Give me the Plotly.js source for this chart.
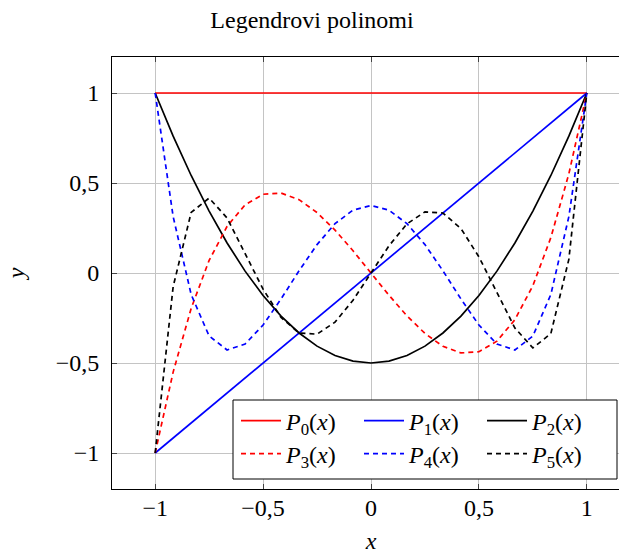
<!DOCTYPE html>
<html>
<head>
<meta charset="utf-8">
<script src="https://cdn.plot.ly/plotly-3.0.1.min.js"></script>
<style>
html,body{margin:0;padding:0;overflow:hidden;background:#fff;}
#chart{width:660px;height:554px;}
</style>
</head>
<body>
<div id="chart"></div>
<script>
// sample points (x) and values of each polynomial
const xs = [-1, -0.9167, -0.8333, -0.75, -0.6667, -0.5833, -0.5, -0.4167, -0.3333, -0.25, -0.1667, -0.0833, 0, 0.0833, 0.1667, 0.25, 0.3333, 0.4167, 0.5, 0.5833, 0.6667, 0.75, 0.8333, 0.9167, 1];
const p0 = [1, 1, 1, 1, 1, 1, 1, 1, 1, 1, 1, 1, 1, 1, 1, 1, 1, 1, 1, 1, 1, 1, 1, 1, 1];
const p1 = [-1, -0.9167, -0.8333, -0.75, -0.6667, -0.5833, -0.5, -0.4167, -0.3333, -0.25, -0.1667, -0.0833, 0, 0.0833, 0.1667, 0.25, 0.3333, 0.4167, 0.5, 0.5833, 0.6667, 0.75, 0.8333, 0.9167, 1];
const p2 = [1, 0.7604, 0.5417, 0.3438, 0.1667, 0.0104, -0.125, -0.2396, -0.3333, -0.4063, -0.4583, -0.4896, -0.5, -0.4896, -0.4583, -0.4063, -0.3333, -0.2396, -0.125, 0.0104, 0.1667, 0.3438, 0.5417, 0.7604, 1];
const p3 = [-1, -0.5506, -0.1968, 0.0703, 0.2593, 0.3788, 0.4375, 0.4442, 0.4074, 0.3359, 0.2384, 0.1236, 0, -0.1236, -0.2384, -0.3359, -0.4074, -0.4442, -0.4375, -0.3788, -0.2593, -0.0703, 0.1968, 0.5506, 1];
const p4 = [1, 0.3130, -0.1193, -0.3501, -0.4275, -0.3945, -0.2891, -0.1442, 0.0123, 0.1577, 0.2742, 0.3492, 0.375, 0.3492, 0.2742, 0.1577, 0.0123, -0.1442, -0.2891, -0.3945, -0.4275, -0.3501, -0.1193, 0.3130, 1];
const p5 = [-1, -0.0759, 0.3364, 0.4164, 0.3056, 0.1112, -0.0898, -0.2472, -0.3333, -0.3397, -0.2730, -0.1512, 0, 0.1512, 0.2730, 0.3397, 0.3333, 0.2472, 0.0898, -0.1112, -0.3056, -0.4164, -0.3364, 0.0759, 1];

const seriesNames = ['<i>P</i><sub>0</sub>(<i>x</i>)', '<i>P</i><sub>1</sub>(<i>x</i>)', '<i>P</i><sub>2</sub>(<i>x</i>)',
                     '<i>P</i><sub>3</sub>(<i>x</i>)', '<i>P</i><sub>4</sub>(<i>x</i>)', '<i>P</i><sub>5</sub>(<i>x</i>)'];
const seriesY = [p0, p1, p2, p3, p4, p5];

const xTickVals = [-1, -0.5, 0, 0.5, 1];
const xTickText = ['−1', '−0,5', '0', '0,5', '1'];
const yTickVals = [-1, -0.5, 0, 0.5, 1];
const yTickText = ['−1', '−0,5', '0', '0,5', '1'];

const colors = ['#ff0000', '#0000ff', '#000000', '#ff0000', '#0000ff', '#000000'];
const dashes = ['solid', 'solid', 'solid', '5px,4px', '5px,4px', '5px,4px'];
const legendIds = ['legend', 'legend', 'legend', 'legend2', 'legend2', 'legend2'];

const traces = seriesY.map((y, i) => ({
  x: xs, y: y, type: 'scatter', mode: 'lines', name: seriesNames[i], legend: legendIds[i],
  line: {color: colors[i], width: 1.7, dash: dashes[i]}
}));

const FONT = 'Liberation Serif, Times New Roman, serif';
const W = 660, H = 554;
const PL = 112, PT = 57, PW = 518, PH = 432;
const px2x = p => (p - PL) / PW;
const py2y = p => (PT + PH - p) / PH;

const legendCommon = {
  orientation: 'h', xanchor: 'left', yanchor: 'middle',
  bgcolor: 'rgba(0,0,0,0)', borderwidth: 0,
  entrywidthmode: 'pixels', entrywidth: 68, itemwidth: 40,
  font: {family: FONT, size: 24, color: '#000'}
};

const layout = {
  width: W, height: H,
  margin: {l: PL, r: W - PL - PW, t: PT, b: H - PT - PH},
  paper_bgcolor: '#fff', plot_bgcolor: '#fff',
  font: {family: FONT, size: 24, color: '#000'},
  title: {text: 'Legendrovi polinomi', font: {family: FONT, size: 24, color: '#000'},
          x: 312 / W, xref: 'container', xanchor: 'center', y: 1 - 20 / H, yref: 'container', yanchor: 'middle'},
  xaxis: {range: [-1.2, 1.2], tickvals: xTickVals, ticktext: xTickText,
          showgrid: true, gridcolor: '#c4c4c4', gridwidth: 1, zeroline: false,
          showline: true, linecolor: '#000', linewidth: 1, mirror: 'ticks',
          ticks: 'inside', ticklen: 5, tickcolor: '#444', ticklabelstandoff: -3,
          title: {text: '<i>x</i>', font: {family: FONT, size: 24}, standoff: 12}},
  yaxis: {range: [-1.2, 1.2], tickvals: yTickVals, ticktext: yTickText,
          showgrid: true, gridcolor: '#c4c4c4', gridwidth: 1, zeroline: false,
          showline: true, linecolor: '#000', linewidth: 1, mirror: 'ticks',
          ticks: 'inside', ticklen: 5, tickcolor: '#444', ticklabelstandoff: 7,
          title: {text: '<i>y</i>', font: {family: FONT, size: 24}, standoff: 24}},
  showlegend: true,
  shapes: [{type: 'rect', xref: 'paper', yref: 'paper',
            x0: px2x(233), x1: px2x(617), y0: py2y(479), y1: py2y(400),
            line: {color: '#000', width: 1}, fillcolor: '#fff', layer: 'above'}],
  legend: Object.assign({}, legendCommon, {x: px2x(236), y: py2y(421)}),
  legend2: Object.assign({}, legendCommon, {x: px2x(236), y: py2y(454)})
};

Plotly.newPlot('chart', traces, layout, {displayModeBar: false, staticPlot: true});
</script>
</body>
</html>
